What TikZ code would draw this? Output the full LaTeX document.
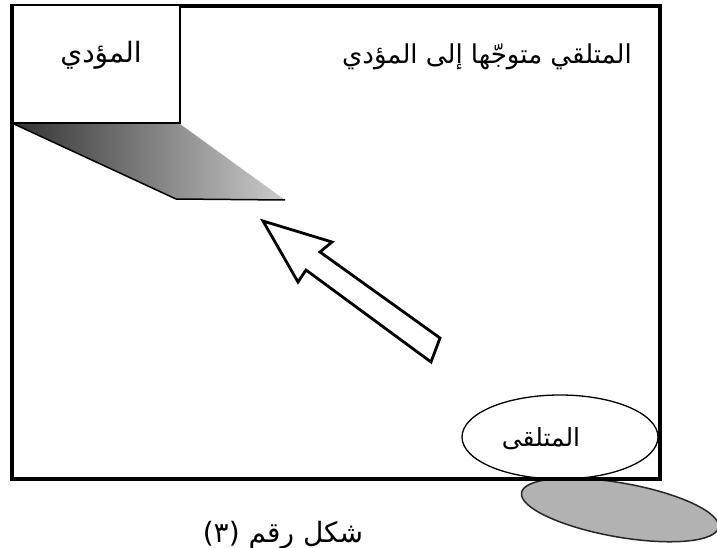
\documentclass[tikz,border=0pt]{standalone}
\usepackage{fontspec}
\newfontfamily\arabicfont[Script=Arabic]{DejaVu Sans}
\TeXXeTstate=1
\begin{document}
\begin{tikzpicture}[x=1pt,y=-1pt,
  frame/.style={draw=black, line width=3.5pt},
  boxline/.style={draw=black, line width=2.2pt},
  artext/.style={font=\arabicfont\fontsize{#1}{#1}\selectfont, inner sep=0pt},
  shadowfill/.style={left color=black!80, right color=gray!40},
  arrowshape/.style={draw=black, line width=2.8pt, fill=white, line join=miter}
]
\useasboundingbox (0,0) rectangle (717,548);
% shadow of the performer box
\coordinate (s1) at (14,124);
\coordinate (s2) at (180,124);
\coordinate (s3) at (285,200);
\coordinate (s4) at (176,199);
\shade[shadowfill] (s1) -- (s2) -- (s3) -- (s4) -- cycle;
\draw[black, line width=1.5pt] (s1) -- (s4) -- (s3);
% shadow of the receiver ellipse
\begin{scope}
  \clip (0,480) rectangle (717,548);
  \fill[gray!60, draw=black!85, line width=1.5pt, rotate around={-10:(620,510)}]
    (620,510) ellipse [x radius=100pt, y radius=27pt];
\end{scope}
% receiver ellipse
\coordinate (recvc) at (560,437);
\draw[black, line width=1.3pt, fill=white] (recvc) ellipse [x radius=98pt, y radius=42pt];
\node[artext=25pt] (recvtext) at (541,439) {\beginR المتلقى\endR};
% outer frame
\draw[frame] (12,6) rectangle (660,479);
% performer box
\draw[boxline, fill=white] (13,5) rectangle (180,123);
\node[artext=28pt] (perftext) at (101,55) {\beginR المؤدي\endR};
% title
\node[artext=26pt] (title) at (487,57) {\beginR المتلقي متوجّها إلى المؤدي\endR};
% arrow from receiver towards performer
\coordinate (tip) at (263,221);
\coordinate (b1) at (332,242);
\coordinate (n1) at (320,252);
\coordinate (t1) at (440,338);
\coordinate (t2) at (431,362);
\coordinate (n2) at (306,270);
\coordinate (b2) at (298,282);
\draw[arrowshape] (tip) -- (b1) -- (n1) -- (t1) -- (t2) -- (n2) -- (b2) -- cycle;
% caption
\node[artext=28pt] (caption) at (283,535) {\beginR شكل رقم (٣)\endR};
\end{tikzpicture}
\end{document}
